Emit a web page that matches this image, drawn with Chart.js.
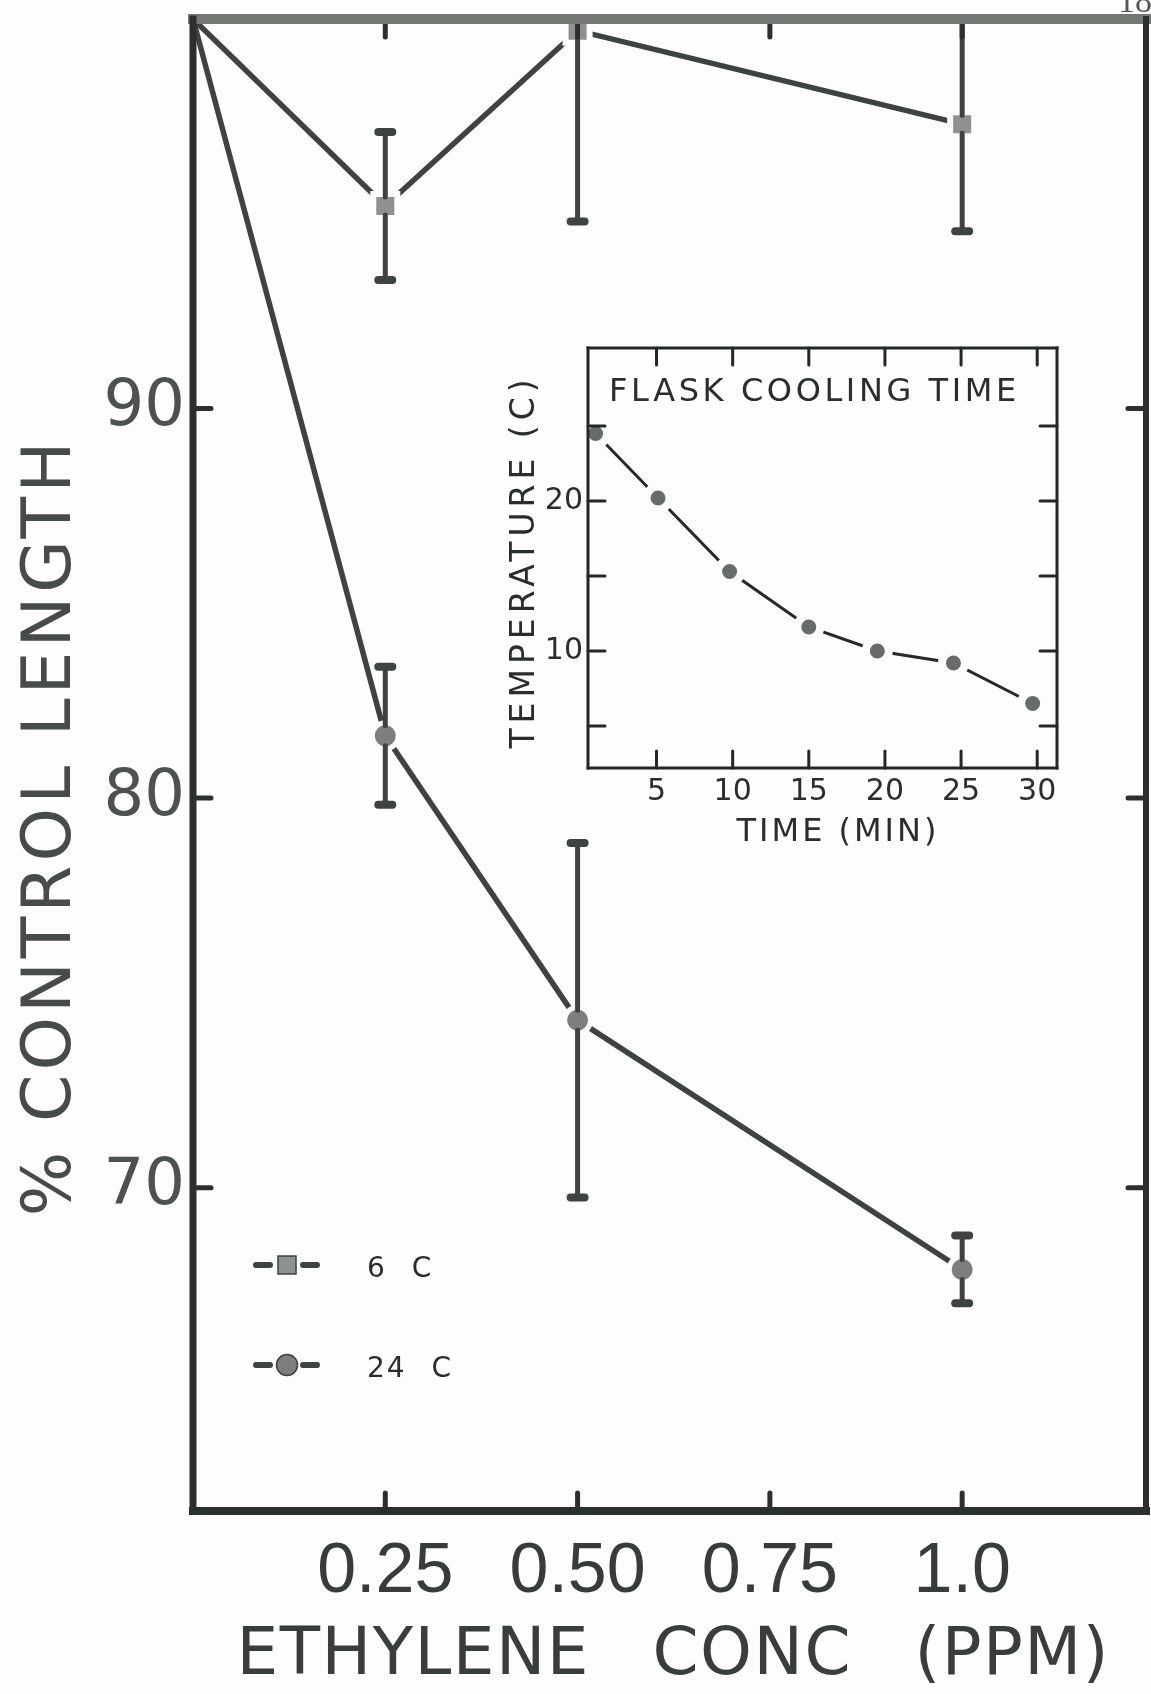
<!DOCTYPE html>
<html lang="en">
<head>
<meta charset="UTF-8">
<title>% Control Length vs Ethylene Conc</title>
<script src="https://cdn.jsdelivr.net/npm/chart.js"></script>
<style>
  html, body { margin: 0; padding: 0; background: #fdfdfb; }
  #wrap { position: relative; width: 1151px; height: 1694px; overflow: hidden; background: #fdfdfb; }
  #mainChart { position: absolute; left: 0; top: 0; }
  #insetChart { position: absolute; left: 480px; top: 320px; }
</style>
</head>
<body>
<div id="wrap">
  <canvas id="mainChart" width="1151" height="1694"></canvas>
  <canvas id="insetChart" width="620" height="540"></canvas>
</div>
<script>
// main chart: % control length vs ethylene concentration
const conc = [0, 0.25, 0.50, 1.0];
const length6C = [100, 95.2, 99.7, 97.3];
const err6C = [0, 1.9, 4.9, 2.75];
const length24C = [100, 81.6, 74.3, 67.9];
const err24C = [0, 1.77, 4.55, 0.87];
const concTicks = [0.25, 0.50, 0.75, 1.0];
const concTickLabels = ['0.25', '0.50', '0.75', '1.0'];
const lengthTicks = [70, 80, 90];

// inset: flask cooling time
const coolTime = [1, 5.1, 9.8, 15, 19.5, 24.5, 29.7];
const coolTemp = [24.5, 20.2, 15.3, 11.6, 10.0, 9.2, 6.5];
const timeTicks = [5, 10, 15, 20, 25, 30];
const tempTicks = [5, 10, 15, 20, 25];
const tempLabelled = [10, 20];

const paper = '#fdfdfb';
const ink = '#3e433e';

// text with letter/word spacing (canvas letterSpacing where supported)
function spacedText(ctx, text, x, y, size, spacing, color, rotate, wordGap) {
    ctx.save();
    ctx.font = size + 'px "DejaVu Sans", sans-serif';
    ctx.fillStyle = color;
    ctx.textAlign = 'center';
    ctx.textBaseline = 'middle';
    if ('letterSpacing' in ctx) ctx.letterSpacing = spacing + 'px';
    if (wordGap && 'wordSpacing' in ctx) ctx.wordSpacing = wordGap + 'px';
    ctx.translate(x, y);
    if (rotate) ctx.rotate(-Math.PI / 2);
    ctx.fillText(text, spacing / 2, 0);
    ctx.restore();
}

// keep the plot area where it is: no extra room for overhanging labels
function noPadding(axis) {
    axis.paddingLeft = axis.paddingRight = axis.paddingTop = axis.paddingBottom = 0;
}

// box round the plot area, with inward ticks on all four sides
const framePlugin = {
    id: 'frame',
    afterDraw(chart, args, o) {
        const { ctx, chartArea: a } = chart;
        const xs = chart.scales.x, ys = chart.scales.y;
        const seg = (x1, y1, x2, y2, w, c) => {
            ctx.lineWidth = w;
            ctx.strokeStyle = c;
            ctx.beginPath();
            ctx.moveTo(x1, y1);
            ctx.lineTo(x2, y2);
            ctx.stroke();
        };
        ctx.save();
        ctx.lineCap = 'round';
        o.xTicks.forEach(v => {
            const p = xs.getPixelForValue(v);
            seg(p, a.bottom, p, a.bottom - o.tick, o.tickWidth, o.color);
            seg(p, a.top, p, a.top + o.tick, o.tickWidth, o.color);
        });
        o.yTicks.forEach(v => {
            const p = ys.getPixelForValue(v);
            seg(a.left, p, a.left + o.tick, p, o.tickWidth, o.color);
            seg(a.right, p, a.right - o.tick, p, o.tickWidth, o.color);
        });
        ctx.lineCap = 'square';
        seg(a.left, a.top, a.right, a.top, o.widths[0], o.topColor || o.color);
        seg(a.right, a.top, a.right, a.bottom, o.widths[1], o.color);
        seg(a.left, a.bottom, a.right, a.bottom, o.widths[2], o.color);
        seg(a.left, a.top, a.left, a.bottom, o.widths[3], o.color);
        ctx.restore();
    }
};

// vertical error bars with caps, broken where the marker sits
const errorBars = {
    id: 'errorBars',
    afterDatasetsDraw(chart, args, o) {
        const { ctx, chartArea: a } = chart;
        const ys = chart.scales.y;
        ctx.save();
        ctx.beginPath();
        ctx.rect(a.left, a.top, a.right - a.left, a.bottom - a.top);
        ctx.clip();
        ctx.lineCap = 'round';
        chart.data.datasets.forEach((ds, i) => {
            if (!ds.errors) return;
            const meta = chart.getDatasetMeta(i);
            ctx.strokeStyle = ds.borderColor;
            meta.data.forEach((pt, j) => {
                const e = ds.errors[j];
                if (!e) return;
                const v = ds.data[j].y;
                const top = ys.getPixelForValue(v + e);
                const bot = ys.getPixelForValue(v - e);
                ctx.lineWidth = o.width;
                ctx.beginPath();
                ctx.moveTo(pt.x, top);
                ctx.lineTo(pt.x, pt.y - ds.markerHalf);
                ctx.moveTo(pt.x, pt.y + ds.markerHalf);
                ctx.lineTo(pt.x, bot);
                ctx.stroke();
                ctx.lineWidth = o.capWidth;
                ctx.beginPath();
                ctx.moveTo(pt.x - o.cap, top);
                ctx.lineTo(pt.x + o.cap, top);
                ctx.moveTo(pt.x - o.cap, bot);
                ctx.lineTo(pt.x + o.cap, bot);
                ctx.stroke();
            });
        });
        ctx.restore();
    }
};

// hand-drawn style legend in the lower left of the plot, plus axis titles
const mainDecor = {
    id: 'mainDecor',
    afterDraw(chart) {
        const { ctx, chartArea: a } = chart;
        const rows = [a.bottom - 246, a.bottom - 146];
        chart.data.datasets.forEach((ds, i) => {
            const cx = a.left + 94, cy = rows[i];
            ctx.save();
            ctx.strokeStyle = ds.borderColor;
            ctx.lineWidth = 6;
            ctx.lineCap = 'round';
            ctx.beginPath();
            ctx.moveTo(cx - 31, cy); ctx.lineTo(cx - 17, cy);
            ctx.moveTo(cx + 16, cy); ctx.lineTo(cx + 30, cy);
            ctx.stroke();
            ctx.fillStyle = ds.pointBackgroundColor;
            ctx.lineWidth = 1.5;
            ctx.beginPath();
            if (ds.pointStyle === 'rect') ctx.rect(cx - 9, cy - 9, 18, 18);
            else ctx.arc(cx, cy, 10.5, 0, Math.PI * 2);
            ctx.fill();
            ctx.stroke();
            ctx.restore();
            ctx.save();
            ctx.font = '28px "DejaVu Sans", sans-serif';
            ctx.fillStyle = '#2a2e2a';
            ctx.textBaseline = 'middle';
            if ('letterSpacing' in ctx) ctx.letterSpacing = '2px';
            if ('wordSpacing' in ctx) ctx.wordSpacing = '14px';
            ctx.fillText(ds.label, a.left + 174, cy + 5);
            ctx.restore();
        });

        spacedText(ctx, 'ETHYLENE CONC (PPM)', (a.left + a.right) / 2 + 3, a.bottom + 146, 66, 1.5, '#3a3e3a', false, 40);
        spacedText(ctx, '% CONTROL LENGTH', 52, a.top + 810, 68, 4, '#474c47', true);

        // page number cut at the top edge
        ctx.save();
        ctx.font = '34px "Liberation Serif", serif';
        ctx.fillStyle = '#555';
        ctx.fillText('18', 1118, 12);
        ctx.restore();
    }
};

const insetDecor = {
    id: 'insetDecor',
    afterDraw(chart) {
        const { ctx, chartArea: a } = chart;
        ctx.save();
        ctx.font = '32px "DejaVu Sans", sans-serif';
        ctx.fillStyle = '#2a2e2a';
        ctx.textBaseline = 'alphabetic';
        if ('letterSpacing' in ctx) ctx.letterSpacing = '3.6px';
        ctx.fillText('FLASK COOLING TIME', a.left + 21, a.top + 53);
        ctx.restore();
        spacedText(ctx, 'TIME (MIN)', (a.left + a.right) / 2 + 14, a.bottom + 65, 32, 3, '#2a2e2a', false);
        spacedText(ctx, 'TEMPERATURE (C)', a.left - 63, (a.top + a.bottom) / 2 + 6, 33, 5, '#2a2e2a', true);
    }
};

new Chart(document.getElementById('mainChart'), {
    type: 'line',
    data: {
        datasets: [
            {
                label: '6 C',
                data: conc.map((c, i) => ({ x: c, y: length6C[i] })),
                errors: err6C,
                markerHalf: 9,
                borderColor: ink,
                borderWidth: 5.5,
                pointStyle: 'rect',
                pointBackgroundColor: '#8e928e',
                pointBorderColor: paper,
                pointBorderWidth: 6,
                pointRadius: ctx => ctx.dataIndex === 0 ? 0 : 17,
                tension: 0
            },
            {
                label: '24 C',
                data: conc.map((c, i) => ({ x: c, y: length24C[i] })),
                errors: err24C,
                markerHalf: 10,
                borderColor: ink,
                borderWidth: 5.5,
                pointStyle: 'circle',
                pointBackgroundColor: '#7c807c',
                pointBorderColor: paper,
                pointBorderWidth: 5,
                pointRadius: ctx => ctx.dataIndex === 0 ? 0 : 13,
                tension: 0
            }
        ]
    },
    options: {
        responsive: false,
        animation: false,
        events: [],
        layout: { autoPadding: false, padding: { left: 0, top: 19, right: 5, bottom: 0 } },
        scales: {
            x: {
                type: 'linear',
                min: 0,
                max: 1.239,
                afterBuildTicks: axis => { axis.ticks = concTicks.map(v => ({ value: v })); },
                afterFit: axis => { axis.height = 183; noPadding(axis); },
                grid: { display: false, drawTicks: false },
                border: { display: false },
                ticks: {
                    padding: 20,
                    maxRotation: 0,
                    autoSkip: false,
                    color: '#383c38',
                    font: { family: '"Liberation Sans Narrow", "Liberation Sans", sans-serif', size: 70 },
                    callback: (v, i) => concTickLabels[i]
                }
            },
            y: {
                type: 'linear',
                min: 61.7,
                max: 100,
                afterBuildTicks: axis => { axis.ticks = lengthTicks.map(v => ({ value: v })); },
                afterFit: axis => { axis.width = 193; noPadding(axis); },
                grid: { display: false, drawTicks: false },
                border: { display: false },
                ticks: {
                    padding: 8,
                    color: '#4d524d',
                    font: { family: '"DejaVu Sans", sans-serif', size: 64 }
                }
            }
        },
        plugins: {
            legend: { display: false },
            tooltip: { enabled: false },
            frame: { xTicks: concTicks, yTicks: lengthTicks, tick: 18, tickWidth: 5, color: '#2c302c', topColor: '#737873', widths: [10, 6, 8, 7] },
            errorBars: { width: 5, capWidth: 8, cap: 7 }
        }
    },
    plugins: [errorBars, framePlugin, mainDecor]
});

new Chart(document.getElementById('insetChart'), {
    type: 'line',
    data: {
        datasets: [{
            label: 'Temperature',
            data: coolTime.map((t, i) => ({ x: t, y: coolTemp[i] })),
            borderColor: '#262a26',
            borderWidth: 3,
            pointStyle: 'circle',
            pointBackgroundColor: '#686c68',
            pointBorderColor: paper,
            pointBorderWidth: 8,
            pointRadius: 11.5,
            tension: 0
        }]
    },
    options: {
        responsive: false,
        animation: false,
        events: [],
        layout: { autoPadding: false, padding: { left: 0, top: 28, right: 43, bottom: 0 } },
        scales: {
            x: {
                type: 'linear',
                min: 0.5,
                max: 31.3,
                afterBuildTicks: axis => { axis.ticks = timeTicks.map(v => ({ value: v })); },
                afterFit: axis => { axis.height = 92; noPadding(axis); },
                grid: { display: false, drawTicks: false },
                border: { display: false },
                ticks: {
                    padding: 6,
                    maxRotation: 0,
                    autoSkip: false,
                    color: '#2a2e2a',
                    font: { family: '"DejaVu Sans", sans-serif', size: 30 }
                }
            },
            y: {
                type: 'linear',
                min: 2.2,
                max: 30.2,
                afterBuildTicks: axis => { axis.ticks = tempTicks.map(v => ({ value: v })); },
                afterFit: axis => { axis.width = 108; noPadding(axis); },
                grid: { display: false, drawTicks: false },
                border: { display: false },
                ticks: {
                    padding: 5,
                    color: '#2a2e2a',
                    font: { family: '"DejaVu Sans", sans-serif', size: 30 },
                    callback: v => tempLabelled.includes(v) ? String(v) : ''
                }
            }
        },
        plugins: {
            legend: { display: false },
            tooltip: { enabled: false },
            frame: { xTicks: timeTicks, yTicks: tempTicks, tick: 17, tickWidth: 3, color: '#242824', widths: [3, 3, 3, 3] }
        }
    },
    plugins: [framePlugin, insetDecor]
});
</script>
</body>
</html>
